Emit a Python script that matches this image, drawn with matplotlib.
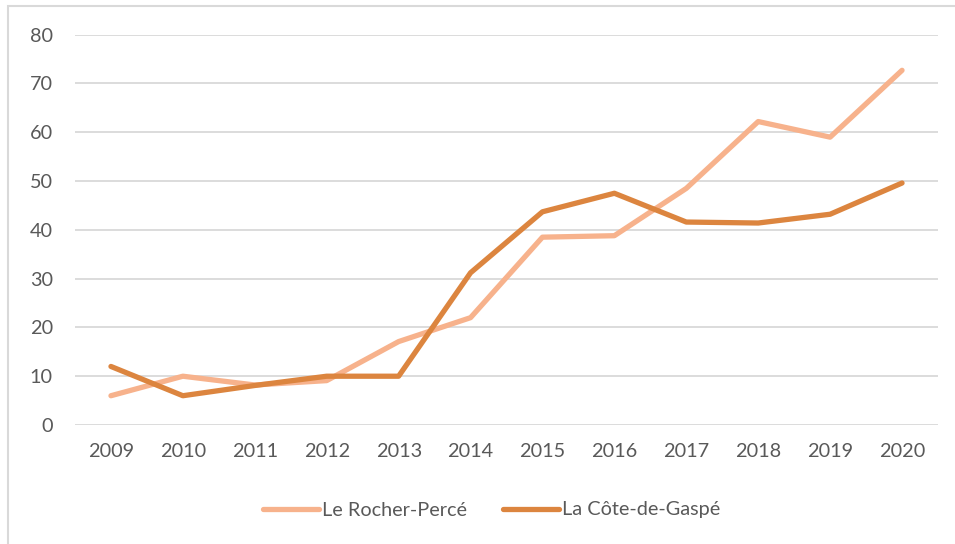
import matplotlib.pyplot as plt
from matplotlib.patches import Rectangle

years = ["2009", "2010", "2011", "2012", "2013", "2014",
         "2015", "2016", "2017", "2018", "2019", "2020"]
rocher_perce = [6, 10, 8.2, 9.1, 17.1, 22, 38.5, 38.8, 48.5, 62.2, 59, 72.7]
cote_de_gaspe = [12, 6, 8.1, 10, 10, 31.2, 43.7, 47.5, 41.6, 41.4, 43.2, 49.6]

plt.rcParams['font.family'] = ['Lato', 'DejaVu Sans']
txt = '#595959'

fig = plt.figure(figsize=(9.55, 5.44), dpi=100)
ax = fig.add_axes([75 / 955, 1 - 425 / 544, (938 - 75) / 955, (425 - 34.7) / 544])

# chart frame (only left/top edges visible in the crop)
fig.patches.append(Rectangle((8 / 955, -0.1), 1.2, 1 - 6 / 544 + 0.1,
                             transform=fig.transFigure, fill=False,
                             edgecolor='#D9D9D9', linewidth=1.5))

x = range(len(years))
ax.plot(x, rocher_perce, color='#F7B28C', lw=3.8, label='Le Rocher-Percé',
        solid_capstyle='round', solid_joinstyle='round')
ax.plot(x, cote_de_gaspe, color='#DC853F', lw=3.8, label='La Côte-de-Gaspé',
        solid_capstyle='round', solid_joinstyle='round')

ax.set_xlim(-0.5, 11.5)
ax.set_ylim(0, 80)
ax.set_yticks(range(0, 81, 10))
ax.set_xticks(list(x))
ax.set_xticklabels(years)
ax.grid(axis='y', color='#D9D9D9', lw=1.3)
ax.set_axisbelow(True)
for s in ax.spines.values():
    s.set_visible(False)
ax.tick_params(length=0, labelsize=14.3, colors=txt, pad=13)
ax.tick_params(axis='y', pad=16)

fig.legend(loc='center', bbox_to_anchor=(491.5 / 955, 1 - 510 / 544), ncol=2,
           frameon=False, fontsize=14.3, labelcolor=txt, handlelength=2.8,
           handletextpad=0.15, columnspacing=1.85)

fig.savefig('out.png', dpi=100)
